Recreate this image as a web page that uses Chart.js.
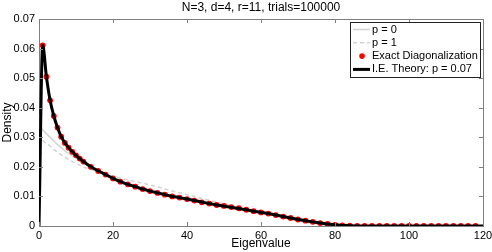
<!DOCTYPE html>
<html>
<head>
<meta charset="utf-8">
<script src="https://cdn.jsdelivr.net/npm/chart.js@4.4.1/dist/chart.umd.min.js"></script>
<style>
  html, body { margin: 0; padding: 0; background: #ffffff; }
  canvas { display: block; }
</style>
</head>
<body>
<canvas id="densityChart" width="492" height="252"></canvas>
<script>
// ======================================================
// DATA
// ======================================================

const chartTitle = "N=3, d=4, r=11, trials=100000";

const xTicks = [0, 20, 40, 60, 80, 100, 120];
const yTicks = [0, 0.01, 0.02, 0.03, 0.04, 0.05, 0.06, 0.07];

// exact diagonalization histogram (red dots)
const edX = [0, 1, 2, 3, 4, 5, 6, 7, 8, 9, 10, 11, 12,
    14, 16, 18, 20, 22, 24, 26, 28, 30, 32, 34, 36, 38, 40,
    42, 44, 46, 48, 50, 52, 54, 56, 58, 60, 62, 64, 66, 68, 70,
    72, 74, 76, 78, 80, 82, 84, 86, 88, 90, 92, 94, 96, 98, 100,
    102, 104, 106, 108, 110, 112, 114, 116, 118];
const edY = [0.039, 0.0611, 0.0505, 0.0425, 0.0372, 0.0333, 0.0302, 0.0281, 0.0265, 0.0251, 0.0239, 0.0228, 0.0218,
    0.0200, 0.0186, 0.0174, 0.0161, 0.0150, 0.0141, 0.0133, 0.0125, 0.0118, 0.0112, 0.0106, 0.0100, 0.0096, 0.0091,
    0.0086, 0.0080, 0.0076, 0.0071, 0.0068, 0.0064, 0.0060, 0.0055, 0.0050, 0.0046, 0.0042, 0.0037, 0.0032, 0.0027, 0.0022,
    0.0018, 0.0014, 0.0010, 0.0007, 0.0004, 0.0002, 0.0001, 0, 0, 0, 0, 0, 0, 0, 0,
    0, 0, 0, 0, 0, 0, 0, 0, 0];

// I.E. theory, p = 0.07 (black)
const theoryX = [0, 1, 2, 3, 4, 5, 6, 7, 8, 9, 10, 11, 12,
    14, 16, 18, 20, 22, 24, 26, 28, 30, 32, 34, 36, 38, 40,
    42, 44, 46, 48, 50, 52, 54, 56, 58, 60, 62, 64, 66, 68, 70,
    72, 74, 76, 78, 80, 82, 84, 86, 90, 100, 110, 120];
const theoryY = [0, 0.0611, 0.0505, 0.0425, 0.0372, 0.0333, 0.0302, 0.0281, 0.0265, 0.0251, 0.0239, 0.0228, 0.0218,
    0.0200, 0.0186, 0.0174, 0.0161, 0.0150, 0.0141, 0.0133, 0.0125, 0.0118, 0.0112, 0.0106, 0.0100, 0.0096, 0.0091,
    0.0086, 0.0081, 0.0076, 0.0071, 0.0067, 0.0063, 0.0059, 0.0055, 0.0050, 0.0046, 0.0042, 0.0037, 0.0032, 0.0027, 0.0022,
    0.0018, 0.0014, 0.0010, 0.0007, 0.0004, 0.0002, 0.0001, 0, 0, 0, 0, 0];

// p = 0 (light gray, solid)
const p0X = [0, 1, 3, 5, 8, 12, 16, 20, 30, 40, 50, 60, 70, 80, 90, 120];
const p0Y = [0.0340, 0.0325, 0.0300, 0.0275, 0.0245, 0.0218, 0.0188, 0.0163, 0.0118, 0.0090, 0.0068, 0.0047, 0.0022, 0.0005, 0, 0];

// p = 1 (light gray, dashed)
const p1X = [0, 1, 3, 5, 8, 12, 16, 20, 25, 30, 35, 40, 45, 50, 55, 60, 65, 70, 75, 80, 85, 120];
const p1Y = [0.0310, 0.0290, 0.0270, 0.0250, 0.0225, 0.0200, 0.0183, 0.0168, 0.0153, 0.0139, 0.0122, 0.0106, 0.0090, 0.0075, 0.0058, 0.0043, 0.0029, 0.0017, 0.0008, 0.0003, 0, 0];

function points(xs, ys) {
    return xs.map(function (x, i) { return { x: x, y: ys[i] }; });
}

// ======================================================
// STYLE
// ======================================================

const FONT = "'Liberation Sans', Arial, Helvetica, sans-serif";
const AXIS_GRAY = "#7f7f7f";
const LIGHT_GRAY = "#d4d4d4";

// box, inward ticks, title and legend drawn in the MATLAB manner
const matlabFrame = {
    id: "matlabFrame",
    afterDraw: function (chart) {
        const ctx = chart.ctx;
        const a = chart.chartArea;
        const xs = chart.scales.x;
        const ys = chart.scales.y;

        ctx.save();
        ctx.strokeStyle = AXIS_GRAY;
        ctx.lineWidth = 1;
        ctx.beginPath();
        ctx.moveTo(a.left, a.top + 0.5);
        ctx.lineTo(a.right + 0.5, a.top + 0.5);
        ctx.lineTo(a.right + 0.5, a.bottom);
        ctx.stroke();

        ctx.beginPath();
        xTicks.forEach(function (t) {
            const px = Math.round(xs.getPixelForValue(t)) + 0.5;
            ctx.moveTo(px, a.bottom);
            ctx.lineTo(px, a.bottom - 4);
            ctx.moveTo(px, a.top);
            ctx.lineTo(px, a.top + 4);
        });
        yTicks.forEach(function (t) {
            const py = Math.round(ys.getPixelForValue(t)) + 0.5;
            ctx.moveTo(a.left, py);
            ctx.lineTo(a.left + 4, py);
            ctx.moveTo(a.right, py);
            ctx.lineTo(a.right - 4, py);
        });
        ctx.stroke();

        // title
        ctx.fillStyle = "#000000";
        ctx.font = "12px " + FONT;
        ctx.textAlign = "center";
        ctx.textBaseline = "middle";
        ctx.fillText(chartTitle, (a.left + a.right) / 2, 8);

        // legend
        const lx = a.right - 133;
        const ly = a.top + 3;
        const lw = 130;
        const lh = 55;
        ctx.fillStyle = "#ffffff";
        ctx.fillRect(lx, ly, lw, lh);
        ctx.strokeStyle = "#222222";
        ctx.strokeRect(lx + 0.5, ly + 0.5, lw, lh);

        const rows = chart.data.datasets.slice().sort(function (p, q) {
            return p.legendRank - q.legendRank;
        });
        ctx.font = "11px " + FONT;
        ctx.textAlign = "left";
        rows.forEach(function (ds, i) {
            const cy = ly + 7.5 + i * 13.3;
            if (ds.showLine === false) {
                ctx.fillStyle = ds.pointBackgroundColor;
                ctx.beginPath();
                ctx.arc(lx + 12, cy, 2.8, 0, Math.PI * 2);
                ctx.fill();
            } else {
                ctx.strokeStyle = ds.borderColor;
                ctx.lineWidth = ds.borderWidth;
                ctx.setLineDash(ds.borderDash || []);
                ctx.beginPath();
                ctx.moveTo(lx + 3, cy);
                ctx.lineTo(lx + 20, cy);
                ctx.stroke();
                ctx.setLineDash([]);
            }
            ctx.fillStyle = "#000000";
            ctx.fillText(ds.label, lx + 22, cy);
        });
        ctx.restore();
    }
};

// ======================================================
// CHART
// ======================================================

const canvas = document.getElementById("densityChart");

new Chart(canvas.getContext("2d"), {

    type: "line",

    data: {
        datasets: [
            {
                label: "I.E. Theory: p = 0.07",
                legendRank: 3,
                order: 0,
                data: points(theoryX, theoryY),
                borderColor: "#000000",
                borderWidth: 3,
                pointRadius: 0,
                cubicInterpolationMode: "monotone"
            },
            {
                label: "Exact Diagonalization",
                legendRank: 2,
                order: 1,
                data: points(edX, edY),
                showLine: false,
                pointRadius: 2.9,
                pointBorderWidth: 0,
                pointBackgroundColor: "#ff0000",
                pointBorderColor: "#ff0000"
            },
            {
                label: "p = 1",
                legendRank: 1,
                order: 2,
                data: points(p1X, p1Y),
                borderColor: LIGHT_GRAY,
                borderWidth: 1.6,
                borderDash: [4, 3],
                pointRadius: 0,
                cubicInterpolationMode: "monotone"
            },
            {
                label: "p = 0",
                legendRank: 0,
                order: 3,
                data: points(p0X, p0Y),
                borderColor: LIGHT_GRAY,
                borderWidth: 1.6,
                pointRadius: 0,
                cubicInterpolationMode: "monotone"
            }
        ]
    },

    options: {
        responsive: false,
        animation: false,
        layout: {
            padding: { top: 19, right: 9, left: 0, bottom: 0 }
        },
        plugins: {
            legend: { display: false },
            title: { display: false },
            tooltip: { enabled: false }
        },
        scales: {
            x: {
                type: "linear",
                min: 0,
                max: 120,
                afterBuildTicks: function (scale) {
                    scale.ticks = xTicks.map(function (v) { return { value: v }; });
                },
                afterFit: function (scale) {
                    scale.height = 26;
                    scale.paddingLeft = 0;
                    scale.paddingRight = 0;
                },
                ticks: {
                    color: "#000000",
                    padding: 3,
                    maxRotation: 0,
                    font: { family: FONT, size: 11 }
                },
                grid: { display: false, drawTicks: false },
                border: { display: true, color: AXIS_GRAY, width: 1 },
                title: {
                    display: true,
                    text: "Eigenvalue",
                    color: "#000000",
                    padding: { top: 0, bottom: 1 },
                    font: { family: FONT, size: 12 }
                }
            },
            y: {
                min: 0,
                max: 0.07,
                afterBuildTicks: function (scale) {
                    scale.ticks = yTicks.map(function (v) { return { value: v }; });
                },
                afterFit: function (scale) {
                    scale.width = 39;
                },
                ticks: {
                    color: "#000000",
                    padding: 4,
                    font: { family: FONT, size: 11 },
                    callback: function (v) {
                        return v === 0 ? "0" : v.toFixed(2);
                    }
                },
                grid: { display: false, drawTicks: false },
                border: { display: true, color: AXIS_GRAY, width: 1 },
                title: {
                    display: true,
                    text: "Density",
                    color: "#000000",
                    padding: { top: 0, bottom: 0 },
                    font: { family: FONT, size: 12 }
                }
            }
        }
    },

    plugins: [matlabFrame]

});
</script>
</body>
</html>
